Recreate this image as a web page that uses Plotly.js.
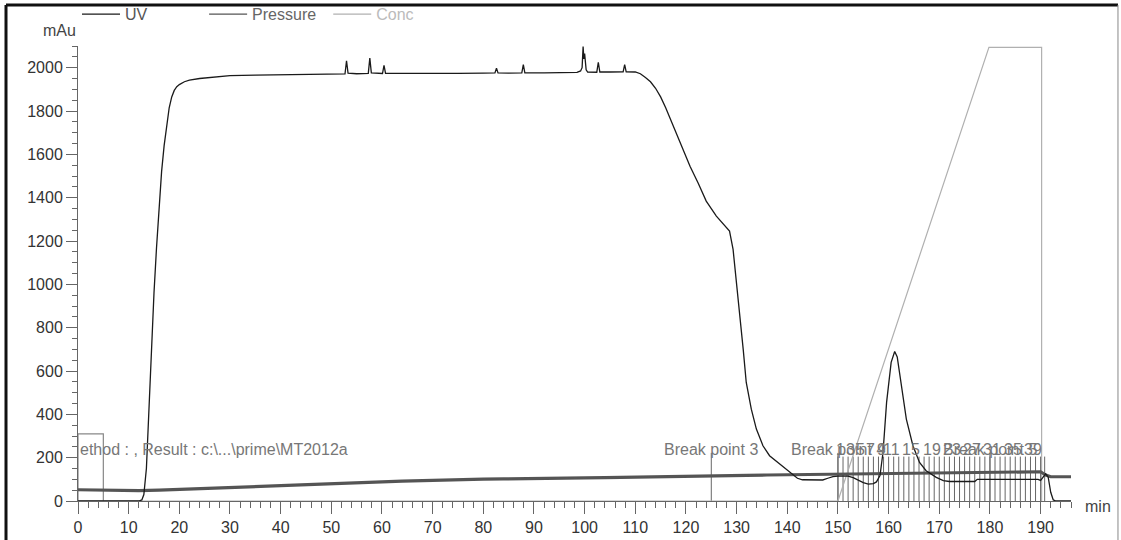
<!DOCTYPE html>
<html>
<head>
<meta charset="utf-8">
<script src="https://cdn.plot.ly/plotly-3.0.1.min.js"></script>
<style>html,body{margin:0;padding:0;background:#fff;}#chart{width:1121px;height:540px;}</style>
</head>
<body>
<div id="chart"></div>
<script>
// ---------- data ----------
const uvTime = [0,12,12.6,13.0,13.5,14.0,14.5,15.0,15.5,16.0,16.5,17.0,17.5,18.0,18.5,19.0,19.5,20,21,22,24,26,28,30,35,40,45,50,52.7,53.0,53.3,55,57.3,57.6,57.9,60.1,60.4,60.7,65,70,75,80,82.3,82.6,82.9,85,87.6,87.9,88.2,92,96,98.5,99.2,99.5,99.7,99.85,100.0,100.3,100.6,102.4,102.7,103.0,105,107.6,107.9,108.2,110,111,112,113,114,115,116,117.5,119,120.8,122.4,124,126,127,128.1,128.6,129.3,130,130.6,131.3,131.9,132.9,133.9,135.2,136.5,138.5,140,141,142,143,145,147,148,149,150,152,153,154,155,156,157,157.6,158.3,158.9,159.6,160.5,161.2,161.7,162.5,163.5,164.8,166.1,167.4,169.4,170.8,172,177,177.5,189.5,190,190.5,191,191.5,192,192.5,193,196];
const uvValue = [0,0,5,30,150,430,720,960,1170,1360,1520,1640,1740,1815,1865,1895,1912,1922,1935,1942,1950,1955,1960,1963,1966,1968,1969,1970,1971,2032,1975,1972,1974,2044,1976,1973,2011,1974,1973,1973,1974,1975,1976,1998,1976,1975,1976,2014,1976,1976,1977,1978,1985,2000,2097,2040,2065,1990,1980,1979,2025,1980,1980,1981,2014,1981,1980,1972,1955,1935,1905,1865,1815,1729,1640,1545,1468,1384,1315,1290,1261,1246,1161,1008,854,700,547,424,332,255,209,170,140,120,105,98,96,97,105,112,115,115,108,95,85,78,80,88,117,225,455,640,690,665,531,378,255,178,140,109,94,90,90,100,100,95,110,125,110,40,5,0,0];

const pressureTime  = [0,4,8,12,16,20,24,28,32,36,40,44,48,52,56,60,64,68,72,76,80,84,88,92,96,100,104,108,112,116,120,124,128,132,136,140,144,148,152,156,160,164,168,172,176,180,184,188,190,191,192,196];
const pressureValue = [52,50,49,48,50,53,57,61,64,68,71,74,78,82,85,89,92,94,97,99,101,102,104,105,106,107,108,109,110,112,114,115,117,118,120,121,122,124,125,126,128,129,130,131,132,133,134,135,135,120,112,112];

const concTime  = [0,150,179.8,190.2,190.2];
const concValue = [0,0,2094,2094,0];

const injectTime  = [0,0,5,5];
const injectValue = [0,310,310,0];

const breakTimes  = [125,150,180];
const breakLabels = ["Break point 3","Break point 4","Break point 5"];

const fractionStarts = [150,151,152,153,154,155,156,157,158,159,160,161,162,163,164,165,166,167,168,169,170,171,172,173,174,175,176,177,178,179,180,181,182,183,184,185,186,187,188,189,190,190.8];
const fractionLabels = ["1","3","5","7","9","11","15","19","23","27","31","35","39"];
const fractionLabelTimes = [150.5,152.5,154.5,156.5,158.5,160.5,164.5,168.5,172.5,176.5,180.5,184.5,188.5];

const methodText = "ethod : , Result : c:\\...\\prime\\MT2012a";

// ---------- styling constants ----------
const FONT = "Liberation Sans, Arial, sans-serif";
const fractionHeight = 205;
const breakHeight = 222;
const labelLevel = 240;

// build marker segments
const fx = [], fy = [];
fractionStarts.forEach(t => { fx.push(t, t, null); fy.push(0, fractionHeight, null); });
const bx = [], by = [];
breakTimes.forEach(t => { bx.push(t, t, null); by.push(0, breakHeight, null); });

const traces = [
  {x: fx, y: fy, mode: 'lines', line: {color: '#666', width: 1}, showlegend: false, hoverinfo: 'skip'},
  {x: bx, y: by, mode: 'lines', line: {color: '#666', width: 1}, showlegend: false, hoverinfo: 'skip'},
  {x: injectTime, y: injectValue, mode: 'lines', line: {color: '#888', width: 1.2}, showlegend: false, hoverinfo: 'skip'},
  {x: concTime, y: concValue, mode: 'lines', name: 'Conc', line: {color: '#b0b0b0', width: 1.2}, legend: 'legend3'},
  {x: pressureTime, y: pressureValue, mode: 'lines', line: {color: '#555', width: 3.2}, showlegend: false, hoverinfo: 'skip'},
  {x: pressureTime, y: pressureValue, mode: 'lines', name: 'Pressure', line: {color: '#555', width: 1.2}, legend: 'legend2'},
  {x: uvTime, y: uvValue, mode: 'lines', name: 'UV', line: {color: '#1a1a1a', width: 1.3}, legend: 'legend'}
];

const annotations = [];
breakTimes.forEach((t, i) => annotations.push({
  x: t, y: labelLevel, xref: 'x', yref: 'y', text: breakLabels[i], showarrow: false,
  xanchor: 'center', yanchor: 'middle', font: {family: FONT, size: 16, color: '#777'}
}));
fractionLabels.forEach((s, i) => annotations.push({
  x: fractionLabelTimes[i], y: labelLevel, xref: 'x', yref: 'y', text: s, showarrow: false,
  xanchor: 'center', yanchor: 'middle', font: {family: FONT, size: 16, color: '#777'}
}));
annotations.push({x: 0, y: labelLevel, xref: 'x', yref: 'y', text: methodText, showarrow: false,
  xanchor: 'left', yanchor: 'middle', font: {family: FONT, size: 16, color: '#777'}});
annotations.push({x: 0, y: 1.033, xref: 'paper', yref: 'paper', text: 'mAu', showarrow: false,
  xanchor: 'right', yanchor: 'middle', font: {family: FONT, size: 16, color: '#444'}});
annotations.push({x: 1.012, y: -0.011, xref: 'paper', yref: 'paper', text: 'min', showarrow: false,
  xanchor: 'left', yanchor: 'middle', font: {family: FONT, size: 16, color: '#444'}});

const legendBase = {orientation: 'h', yanchor: 'middle', xanchor: 'left', y: 1.07,
  bgcolor: 'rgba(0,0,0,0)', borderwidth: 0, itemwidth: 38, itemclick: false, itemdoubleclick: false};

const layout = {
  width: 1121, height: 540,
  margin: {l: 78, r: 50, t: 46, b: 39, autoexpand: false},
  paper_bgcolor: '#fff', plot_bgcolor: '#fff',
  font: {family: FONT, size: 16, color: '#444'},
  xaxis: {range: [0, 196], showgrid: false, zeroline: false, showline: true, linecolor: '#666', linewidth: 1,
    ticks: 'outside', ticklen: 12, tickcolor: '#666', tick0: 0, dtick: 10, automargin: false,
    minor: {dtick: 2, ticks: 'outside', ticklen: 6, tickcolor: '#666', showgrid: false},
    tickfont: {family: FONT, size: 16, color: '#333'}},
  yaxis: {range: [0, 2100], showgrid: false, zeroline: false, showline: true, linecolor: '#666', linewidth: 1,
    ticks: 'outside', ticklen: 11, tickcolor: '#666', tick0: 0, dtick: 200, automargin: false,
    minor: {dtick: 50, ticks: 'outside', ticklen: 5, tickcolor: '#666', showgrid: false},
    tickfont: {family: FONT, size: 16, color: '#333'}},
  legend: Object.assign({}, legendBase, {x: -0.001, font: {family: FONT, size: 16, color: '#555'}}),
  legend2: Object.assign({}, legendBase, {x: 0.127, font: {family: FONT, size: 16, color: '#666'}}),
  legend3: Object.assign({}, legendBase, {x: 0.252, font: {family: FONT, size: 16, color: '#bbb'}}),
  annotations: annotations,
  shapes: [
    {type: 'line', xref: 'paper', yref: 'paper', x0: -0.0725, x1: -0.0725, y0: -0.09, y1: 1.09, line: {color: '#111', width: 3}},
    {type: 'line', xref: 'paper', yref: 'paper', x0: -0.0725, x1: 1.0473, y0: 1.09, y1: 1.09, line: {color: '#111', width: 3}},
    {type: 'line', xref: 'paper', yref: 'paper', x0: 1.0473, x1: 1.0473, y0: -0.09, y1: 1.09, line: {color: '#888', width: 1}}
  ]
};

Plotly.newPlot('chart', traces, layout, {staticPlot: true, displayModeBar: false});
</script>
</body>
</html>
